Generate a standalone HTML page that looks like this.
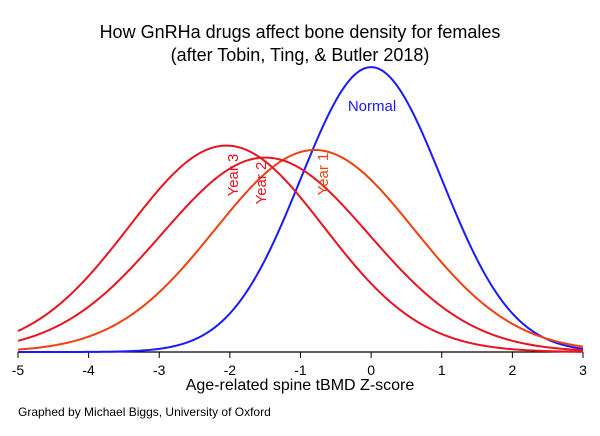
<!DOCTYPE html>
<html><head><meta charset="utf-8"><style>
body{margin:0;background:#fff;width:600px;height:431px;overflow:hidden}
svg{font-family:"Liberation Sans",sans-serif}
</style></head><body>
<svg width="600" height="431" id="c">
<text x="300" y="38" text-anchor="middle" font-size="18">How GnRHa drugs affect bone density for females</text>
<text x="300" y="61" text-anchor="middle" font-size="18">(after Tobin, Ting, &amp; Butler 2018)</text>
<line x1="18" y1="352" x2="583" y2="352" stroke="#000" stroke-width="1.2"/>
<g id="ticks"></g>
<g id="curves"></g>
<text x="300" y="390" text-anchor="middle" font-size="16">Age-related spine tBMD Z-score</text>
<text x="18" y="416" font-size="12">Graphed by Michael Biggs, University of Oxford</text>
</svg>
<script>
const tickValues=[-5,-4,-3,-2,-1,0,1,2,3];
const seriesNames=["Normal","Year 1","Year 2","Year 3"];
const seriesMeans=[0,-0.8,-1.5,-2.05];
const seriesSDs=[1,1.41,1.465,1.38];
const seriesColors=["#1a1aff","#f04010","#e8141e","#e8141e"];
const NS="http://www.w3.org/2000/svg";
const X=v=>18+(v+5)*(565/8);
const Y=d=>352-d*714;
const tg=document.getElementById('ticks');
tickValues.forEach(v=>{
 const l=document.createElementNS(NS,'line');
 l.setAttribute('x1',X(v));l.setAttribute('x2',X(v));l.setAttribute('y1',352);l.setAttribute('y2',358);l.setAttribute('stroke','#000');
 
 
 tg.appendChild(l);
 const t=document.createElementNS(NS,'text');
 t.setAttribute('x',X(v));t.setAttribute('y',375);t.setAttribute('text-anchor','middle');t.setAttribute('font-size','14');
 t.textContent=v;
 
 
 tg.appendChild(t);
});
const cg=document.getElementById('curves');
const pdf=(x,m,s)=>Math.exp(-0.5*((x-m)/s)**2)/(s*Math.sqrt(2*Math.PI));
seriesNames.forEach((n,i)=>{
 let d='';
 for(let k=0;k<=400;k++){const x=-5+8*k/400;d+=(k?'L':'M')+X(x).toFixed(2)+','+Y(pdf(x,seriesMeans[i],seriesSDs[i])).toFixed(2);}
 const p=document.createElementNS(NS,'path');
 p.setAttribute('d',d);p.setAttribute('fill','none');p.setAttribute('stroke',seriesColors[i]);p.setAttribute('stroke-width','2');
 
 
 cg.appendChild(p);
});
const lab=(txt,x,y,rot,col)=>{
 const t=document.createElementNS(NS,'text');
 t.setAttribute('x',x);t.setAttribute('y',y);t.setAttribute('fill',col);t.setAttribute('font-size','15');t.setAttribute('text-anchor','middle');
 if(rot)t.setAttribute('transform','rotate(-90 '+x+' '+y+')');
 t.textContent=txt;
 
 
 cg.appendChild(t);
};
lab('Normal',372,111,false,seriesColors[0]);
lab('Year 3',238,175,true,seriesColors[3]);
lab('Year 2',266,183,true,seriesColors[2]);
lab('Year 1',328,174,true,seriesColors[1]);
</script>
</body></html>
